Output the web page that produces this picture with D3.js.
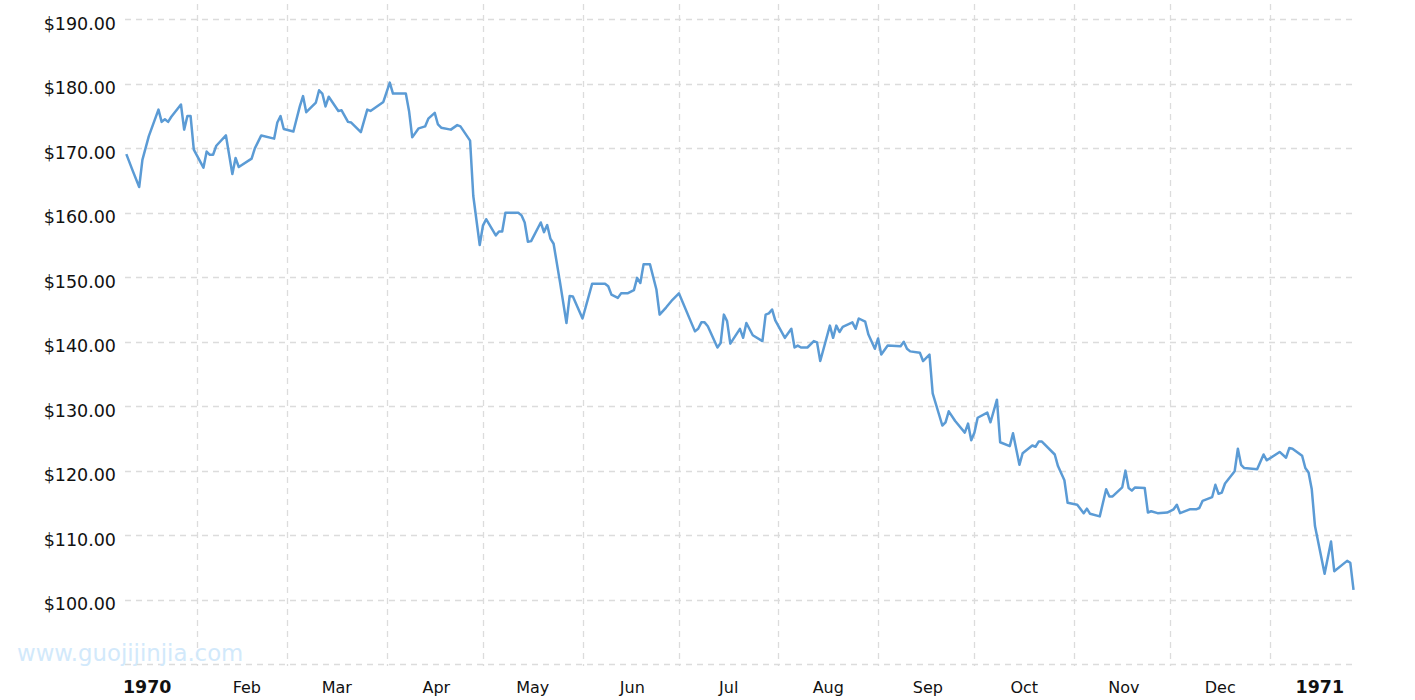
<!DOCTYPE html>
<html>
<head>
<meta charset="utf-8">
<script src="https://cdn.jsdelivr.net/npm/d3@7"></script>
<style>
body { margin: 0; background: #fff; }
svg text { font-family: "DejaVu Sans", Verdana, sans-serif; }
</style>
</head>
<body>
<script>
// daily closes (approx)
var tradeDates = [
	"1970-01-10","1970-01-12","1970-01-14","1970-01-15","1970-01-17","1970-01-20","1970-01-21","1970-01-22","1970-01-23","1970-01-24",
	"1970-01-27","1970-01-28","1970-01-29","1970-01-30","1970-01-31","1970-02-03","1970-02-04","1970-02-05","1970-02-06","1970-02-07",
	"1970-02-10","1970-02-12","1970-02-13","1970-02-14","1970-02-18","1970-02-19","1970-02-20","1970-02-21","1970-02-25","1970-02-26",
	"1970-02-27","1970-02-28","1970-03-03","1970-03-05","1970-03-06","1970-03-07","1970-03-10","1970-03-11","1970-03-12","1970-03-13",
	"1970-03-14","1970-03-17","1970-03-18","1970-03-20","1970-03-21","1970-03-24","1970-03-26","1970-03-27","1970-03-31","1970-04-02",
	"1970-04-03","1970-04-07","1970-04-08","1970-04-09","1970-04-11","1970-04-13","1970-04-14","1970-04-16","1970-04-17","1970-04-18",
	"1970-04-21","1970-04-23","1970-04-24","1970-04-27","1970-04-28","1970-04-30","1970-05-01","1970-05-02","1970-05-05","1970-05-06",
	"1970-05-07","1970-05-08","1970-05-12","1970-05-13","1970-05-14","1970-05-15","1970-05-16","1970-05-19","1970-05-20","1970-05-21",
	"1970-05-22","1970-05-23","1970-05-25","1970-05-27","1970-05-28","1970-05-29","1970-06-01","1970-06-04","1970-06-08","1970-06-09",
	"1970-06-10","1970-06-12","1970-06-13","1970-06-15","1970-06-17","1970-06-18","1970-06-19","1970-06-20","1970-06-22","1970-06-24",
	"1970-06-25","1970-06-27","1970-06-29","1970-07-01","1970-07-06","1970-07-07","1970-07-08","1970-07-09","1970-07-10","1970-07-13",
	"1970-07-14","1970-07-15","1970-07-16","1970-07-17","1970-07-20","1970-07-21","1970-07-22","1970-07-24","1970-07-27","1970-07-28",
	"1970-07-29","1970-07-30","1970-07-31","1970-08-03","1970-08-05","1970-08-06","1970-08-07","1970-08-08","1970-08-10","1970-08-12",
	"1970-08-13","1970-08-14","1970-08-17","1970-08-18","1970-08-19","1970-08-20","1970-08-21","1970-08-24","1970-08-25","1970-08-26",
	"1970-08-28","1970-08-29","1970-08-31","1970-09-01","1970-09-02","1970-09-04","1970-09-08","1970-09-09","1970-09-10","1970-09-11",
	"1970-09-14","1970-09-15","1970-09-17","1970-09-18","1970-09-21","1970-09-22","1970-09-23","1970-09-25","1970-09-28","1970-09-29",
	"1970-09-30","1970-10-01","1970-10-02","1970-10-05","1970-10-06","1970-10-08","1970-10-09","1970-10-12","1970-10-13","1970-10-15",
	"1970-10-16","1970-10-19","1970-10-20","1970-10-21","1970-10-22","1970-10-26","1970-10-27","1970-10-29","1970-10-30","1970-11-02",
	"1970-11-04","1970-11-05","1970-11-06","1970-11-09","1970-11-11","1970-11-12","1970-11-13","1970-11-16","1970-11-17","1970-11-18",
	"1970-11-19","1970-11-20","1970-11-23","1970-11-24","1970-11-25","1970-11-27","1970-11-30","1970-12-02","1970-12-03","1970-12-04",
	"1970-12-07","1970-12-09","1970-12-10","1970-12-11","1970-12-14","1970-12-15","1970-12-16","1970-12-17","1970-12-18","1970-12-21",
	"1970-12-22","1970-12-23","1970-12-24","1970-12-28","1970-12-30","1970-12-31","1971-01-04","1971-01-06","1971-01-07","1971-01-08",
	"1971-01-11","1971-01-12","1971-01-13","1971-01-14","1971-01-15","1971-01-18","1971-01-20","1971-01-21","1971-01-25","1971-01-26",
	"1971-01-27"
];
var closePrices = [
	169.1,166.5,164.0,168.2,171.9,176.0,174.1,174.5,174.1,174.9,
	176.8,172.9,175.0,175.0,169.8,167.0,169.5,169.0,169.0,170.4,
	172.0,166.0,168.5,167.1,168.4,170.0,171.0,172.0,171.5,174.0,
	175.0,173.0,172.6,176.5,178.1,175.6,177.1,179.0,178.5,176.5,
	178.0,175.8,175.9,174.1,174.0,172.5,176.0,175.8,177.2,180.2,
	178.5,178.5,175.8,171.7,173.1,173.4,174.6,175.5,173.7,173.2,
	172.9,173.6,173.4,171.2,162.6,155.0,158.0,159.0,156.5,157.1,
	157.1,160.0,160.0,159.6,158.5,155.5,155.6,158.5,157.0,158.1,
	156.0,155.2,149.2,142.9,147.1,147.0,143.6,149.0,149.0,148.6,
	147.3,146.8,147.5,147.5,148.0,149.9,149.1,152.0,152.0,148.1,
	144.2,145.3,146.5,147.5,141.6,142.0,143.0,143.0,142.4,139.1,
	139.8,144.2,143.2,139.7,142.0,140.6,142.9,141.0,140.1,144.2,
	144.4,145.0,143.3,140.6,142.0,139.1,139.4,139.1,139.1,140.1,
	139.9,137.0,142.5,140.6,142.5,141.5,142.3,143.0,142.0,143.6,
	143.1,141.1,138.9,140.5,138.0,139.4,139.3,140.0,138.9,138.5,
	138.3,137.0,138.0,132.0,127.0,127.5,129.2,127.7,125.9,127.3,
	124.7,125.9,128.2,129.0,127.5,131.0,124.4,123.8,125.8,120.9,
	122.7,123.9,123.7,124.5,124.5,122.5,120.7,118.5,115.0,114.7,
	113.4,114.1,113.3,112.9,117.1,116.0,116.0,117.4,120.0,117.3,
	116.9,117.4,117.3,113.5,113.7,113.4,113.5,114.0,114.7,113.4,
	114.0,114.0,114.2,115.3,115.9,117.8,116.4,116.6,118.0,119.9,
	123.4,120.9,120.4,120.2,122.5,121.6,122.9,122.0,123.5,123.4,
	122.3,120.4,119.7,117.1,111.4,104.0,109.0,104.4,106.0,105.7,
	101.5
];

// axis stuff
var yTicks = [100, 110, 120, 130, 140, 150, 160, 170, 180, 190];
var monthLabels = ["1970","Feb","Mar","Apr","May","Jun","Jul","Aug","Sep","Oct","Nov","Dec","1971"];

var width = 1415, height = 700;
var plotLeft = 125, plotRight = 1355, plotTop = 4, plotBottom = 664;

var parseDate = d3.timeParse("%Y-%m-%d");
var data = tradeDates.map(function(d, i) { return {date: parseDate(d), close: closePrices[i]}; });

var svg = d3.select("body").append("svg")
	.attr("width", width)
	.attr("height", height);

// x range starts a bit into january, ends late jan 1971
var x = d3.scaleTime()
	.domain([new Date(1970, 0, 9, 14), new Date(1971, 0, 27, 11)])
	.range([plotLeft, plotRight]);

var y = d3.scaleLinear()
	.domain([90, 190])
	.range([plotBottom, 19.4]);

var gridColor = "#dcdcdc";

// horizontal grid (incl. the 90 line at the bottom)
svg.append("g")
	.selectAll("line")
	.data([90].concat(yTicks))
	.enter()
	.append("line")
	.attr("x1", plotLeft)
	.attr("x2", plotRight)
	.attr("y1", function(d) { return Math.round(y(d)) + 0.5; })
	.attr("y2", function(d) { return Math.round(y(d)) + 0.5; })
	.attr("stroke", gridColor)
	.attr("stroke-width", 1.3)
	.attr("stroke-dasharray", "6,5");

// vertical grid on month starts
var monthStarts = d3.timeMonth.range(new Date(1970, 1, 1), new Date(1971, 0, 2));
svg.append("g")
	.selectAll("line")
	.data(monthStarts)
	.enter()
	.append("line")
	.attr("x1", function(d) { return Math.round(x(d)) + 0.5; })
	.attr("x2", function(d) { return Math.round(x(d)) + 0.5; })
	.attr("y1", plotTop)
	.attr("y2", plotBottom + 2)
	.attr("stroke", gridColor)
	.attr("stroke-width", 1.3)
	.attr("stroke-dasharray", "6,5");

// y labels
svg.append("g")
	.selectAll("text")
	.data(yTicks)
	.enter()
	.append("text")
	.attr("x", 116)
	.attr("y", function(d) { return y(d) + 10.5; })
	.attr("text-anchor", "end")
	.attr("font-size", "17.5px")
	.attr("fill", "#111")
	.text(d3.format("$.2f"));

// x labels sit in the middle of each month
var labelDates = d3.timeMonth.range(new Date(1970, 0, 1), new Date(1971, 0, 2))
	.map(function(d) { return d3.timeHour.offset(d, 15 * 24 + 12); });
svg.append("g")
	.selectAll("text")
	.data(labelDates)
	.enter()
	.append("text")
	.attr("x", function(d) { return x(d); })
	.attr("y", 693)
	.attr("text-anchor", "middle")
	.attr("font-size", function(d, i) { return monthLabels[i].length == 4 ? "17.4px" : "16px"; })
	.attr("font-weight", function(d, i) { return monthLabels[i].length == 4 ? "bold" : "normal"; })
	.attr("fill", "#111")
	.text(function(d, i) { return monthLabels[i]; });

// watermark
svg.append("text")
	.attr("x", 17)
	.attr("y", 661)
	.attr("font-size", "22.8px")
	.attr("fill", "#d2e9fb")
	.text("www.guojijinjia.com");

svg.append("clipPath")
	.attr("id", "plotClip")
	.append("rect")
	.attr("x", plotLeft)
	.attr("y", 0)
	.attr("width", plotRight - plotLeft)
	.attr("height", plotBottom);

var line = d3.line()
	.x(function(d) { return x(d.date); })
	.y(function(d) { return y(d.close); });

svg.append("path")
	.datum(data)
	.attr("clip-path", "url(#plotClip)")
	.attr("fill", "none")
	.attr("stroke", "#5b9bd5")
	.attr("stroke-width", 2.5)
	.attr("stroke-linejoin", "round")
	.attr("d", line);
</script>
</body>
</html>
